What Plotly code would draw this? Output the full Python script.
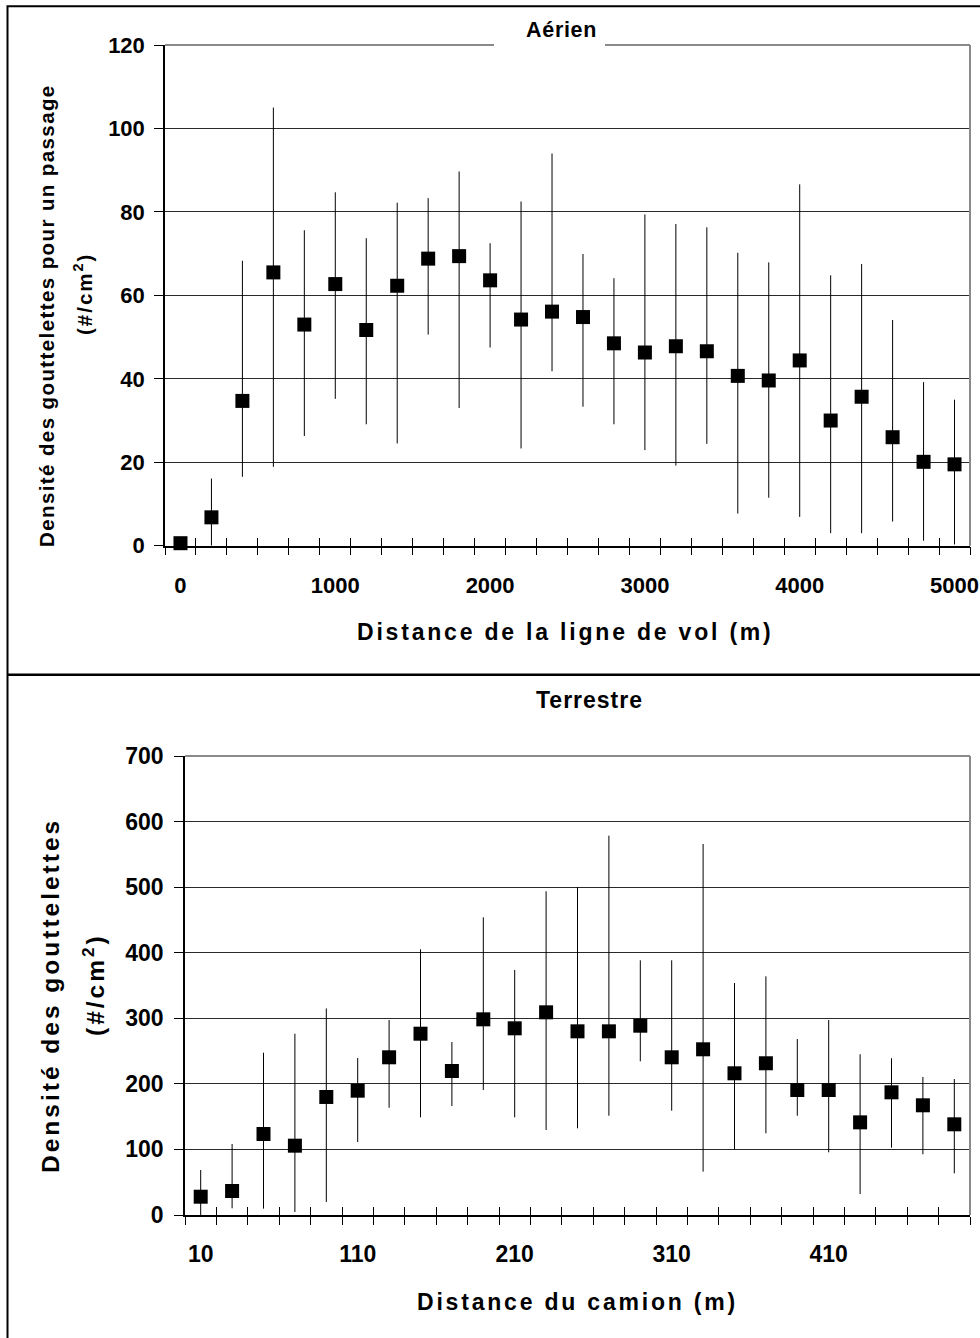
import plotly.graph_objects as go

# ---------------- data ----------------
air_distance = [0, 200, 400, 600, 800, 1000, 1200, 1400, 1600, 1800, 2000, 2200, 2400,
                2600, 2800, 3000, 3200, 3400, 3600, 3800, 4000, 4200, 4400, 4600, 4800, 5000]
air_density = [0.6, 6.8, 34.7, 65.5, 53.0, 62.7, 51.7, 62.3, 68.8, 69.4, 63.6, 54.2, 56.1,
               54.8, 48.5, 46.3, 47.8, 46.6, 40.7, 39.6, 44.4, 30.0, 35.7, 26.0, 20.1, 19.5]
air_upper = [0.6, 16.1, 68.3, 105.0, 75.6, 84.7, 73.7, 82.2, 83.3, 89.7, 72.5, 82.5, 94.0,
             69.9, 64.1, 79.4, 77.1, 76.3, 70.2, 67.9, 86.6, 64.8, 67.5, 54.1, 39.2, 35.0]
air_lower = [0.6, 0.0, 16.5, 18.9, 26.3, 35.2, 29.1, 24.5, 50.6, 33.0, 47.5, 23.3, 41.8,
             33.3, 29.1, 22.9, 19.2, 24.4, 7.7, 11.5, 6.9, 3.0, 3.0, 5.8, 1.2, 0.3]
air_ticklabels = [0, 1000, 2000, 3000, 4000, 5000]
air_yticks = [0, 20, 40, 60, 80, 100, 120]

truck_distance = [10, 30, 50, 70, 90, 110, 130, 150, 170, 190, 210, 230, 250,
                  270, 290, 310, 330, 350, 370, 390, 410, 430, 450, 470, 490]
truck_density = [27.9, 36.6, 123.5, 105.7, 180.0, 189.6, 240.5, 276.5, 219.6, 298.4, 284.7, 309.1, 280.1,
                 280.1, 288.7, 240.5, 252.7, 216.1, 231.4, 190.6, 190.6, 141.3, 187.1, 167.3, 138.3]
truck_upper = [68.6, 108.3, 247.5, 276.5, 315.0, 239.4, 297.4, 405.2, 263.8, 454.0, 373.6, 493.7, 500.2,
               578.5, 388.4, 388.4, 565.8, 353.8, 364.0, 268.4, 297.4, 245.1, 239.0, 210.5, 207.4]
truck_lower = [0.0, 10.2, 9.7, 4.6, 19.8, 111.3, 163.6, 149.0, 166.2, 190.6, 149.0, 129.6, 132.2,
               151.4, 234.4, 159.1, 66.1, 100.2, 124.6, 151.4, 95.6, 32.0, 102.7, 92.6, 63.6]
truck_ticklabels = [10, 110, 210, 310, 410]
truck_yticks = [0, 100, 200, 300, 400, 500, 600, 700]

# ---------------- helpers ----------------
W, H = 980, 1338
FONT = "Liberation Sans, Arial, sans-serif"


def px_x(v):
    return v / W


def px_y(v):
    return 1 - v / H


def boundaries(cats):
    step = cats[1] - cats[0]
    return [c - step / 2 for c in cats] + [cats[-1] + step / 2]


air_bounds = boundaries(air_distance)
truck_bounds = boundaries(truck_distance)


def spaced(text, sp):
    return f'<span style="letter-spacing:{sp}px">{text}</span>'


fig = go.Figure()


def add_series(x, y, up, lo, xa, ya):
    fig.add_trace(go.Scatter(
        x=x, y=y, mode="markers", xaxis=xa, yaxis=ya, showlegend=False,
        marker=dict(symbol="square", size=14, color="black", line=dict(width=0)),
        error_y=dict(type="data", symmetric=False,
                     array=[u - v for u, v in zip(up, y)],
                     arrayminus=[v - l for v, l in zip(y, lo)],
                     color="black", thickness=1, width=0),
        cliponaxis=False, hoverinfo="x+y"))


add_series(air_distance, air_density, air_upper, air_lower, "x", "y")
add_series(truck_distance, truck_density, truck_upper, truck_lower, "x2", "y2")
# invisible helper traces so the overlay tick axes get drawn
fig.add_trace(go.Scatter(x=air_distance, y=air_density, mode="markers", xaxis="x3", yaxis="y",
                         marker=dict(opacity=0), showlegend=False, hoverinfo="skip"))
fig.add_trace(go.Scatter(x=truck_distance, y=truck_density, mode="markers", xaxis="x4", yaxis="y2",
                         marker=dict(opacity=0), showlegend=False, hoverinfo="skip"))

tickfont_top = dict(family=FONT, size=22, color="black", weight="bold")
tickfont_bot = dict(family=FONT, size=23, color="black", weight="bold")

top_xdom = [px_x(165), px_x(970)]
top_ydom = [px_y(545.7), px_y(45)]
bot_xdom = [px_x(185), px_x(970)]
bot_ydom = [px_y(1215), px_y(756)]

common_x = dict(showgrid=False, zeroline=False, showline=True, linecolor="black", linewidth=1.5,
                tickmode="array", ticks="", fixedrange=True, automargin=False)
common_y = dict(showgrid=True, gridcolor="#2a2a2a", gridwidth=1, zeroline=False, showline=True,
                linecolor="black", linewidth=1.5, tickmode="array", ticks="outside", ticklen=9,
                tickcolor="black", tickwidth=1, fixedrange=True, automargin=False)
overlay_x = dict(tickmode="array", ticks="inside", ticklen=8, tickcolor="black", tickwidth=1,
                 showticklabels=False, showgrid=False, zeroline=False, showline=False,
                 fixedrange=True, automargin=False)

fig.update_layout(
    template="none",
    width=W, height=H, margin=dict(l=0, r=0, t=0, b=0, pad=0), autosize=False,
    paper_bgcolor="white", plot_bgcolor="white",
    font=dict(family=FONT, color="black"),
    xaxis=dict(domain=top_xdom, anchor="y", range=[air_bounds[0], air_bounds[-1]],
               tickvals=air_ticklabels, ticktext=[str(v) for v in air_ticklabels],
               tickfont=tickfont_top, ticklabelstandoff=19,
               minor=dict(tickmode="array", tickvals=air_bounds, ticks="outside", ticklen=8,
                          tickcolor="black", tickwidth=1, showgrid=False),
               **common_x),
    yaxis=dict(domain=top_ydom, anchor="x", range=[0, 120], tickvals=air_yticks,
               tickfont=tickfont_top, ticklabelstandoff=5, **common_y),
    xaxis3=dict(overlaying="x", anchor="y", range=[air_bounds[0], air_bounds[-1]],
                tickvals=air_bounds, **overlay_x),
    xaxis2=dict(domain=bot_xdom, anchor="y2", range=[truck_bounds[0], truck_bounds[-1]],
                tickvals=truck_ticklabels, ticktext=[str(v) for v in truck_ticklabels],
                tickfont=tickfont_bot, ticklabelstandoff=18,
                minor=dict(tickmode="array", tickvals=truck_bounds, ticks="outside", ticklen=8,
                           tickcolor="black", tickwidth=1, showgrid=False),
                **common_x),
    yaxis2=dict(domain=bot_ydom, anchor="x2", range=[0, 700], tickvals=truck_yticks,
                tickfont=tickfont_bot, ticklabelstandoff=6, **common_y),
    xaxis4=dict(overlaying="x2", anchor="y2", range=[truck_bounds[0], truck_bounds[-1]],
                tickvals=truck_bounds, **overlay_x),
)

shapes = []
# plot-area borders (top & right, grey)
for xr, yr in (("x domain", "y domain"), ("x2 domain", "y2 domain")):
    shapes.append(dict(type="line", xref=xr, yref=yr, x0=0, x1=1, y0=1, y1=1,
                       line=dict(color="#8a8a8a", width=2), layer="above"))
    shapes.append(dict(type="line", xref=xr, yref=yr, x0=1, x1=1, y0=0, y1=1,
                       line=dict(color="#8a8a8a", width=2), layer="above"))
# white patch behind the "Aérien" title (title sits on the top border)
shapes.append(dict(type="rect", xref="paper", yref="paper", x0=px_x(494), x1=px_x(605),
                   y0=px_y(50), y1=px_y(38), fillcolor="white", line=dict(width=0), layer="above"))
# outer frame and separator
shapes.append(dict(type="rect", xref="paper", yref="paper", x0=px_x(7.5), x1=1.05,
                   y0=-0.05, y1=px_y(6.3), line=dict(color="black", width=2), layer="above"))
shapes.append(dict(type="line", xref="paper", yref="paper", x0=px_x(7.5), x1=1.05,
                   y0=px_y(674.7), y1=px_y(674.7), line=dict(color="black", width=2.5), layer="above"))
fig.update_layout(shapes=shapes)


def ann(text, x, y, size, angle=0):
    return dict(text=text, x=px_x(x), y=px_y(y), xref="paper", yref="paper",
                xanchor="center", yanchor="middle", showarrow=False, textangle=angle,
                font=dict(family=FONT, size=size, color="black", weight="bold"))


annotations = [
    ann(spaced("Aérien", 0.7), 561, 30, 21.5),
    ann(spaced("Terrestre", 1.0), 589, 700, 23),
    ann(spaced("Distance de la ligne de vol (m)", 2.8), 565, 632, 23),
    ann(spaced("Distance du camion (m)", 2.8), 577, 1302, 23),
    ann(spaced("Densité des gouttelettes pour un passage", 1.4), 47, 316, 20.5, -90),
    ann(spaced("(#/cm<sup>2</sup>)", 2.0), 83, 294, 20.5, -90),
    ann(spaced("Densité des gouttelettes", 3.0), 50, 996, 24.5, -90),
    ann(spaced("(#/cm<sup>2</sup>)", 3.0), 93, 985, 24.5, -90),
]
fig.update_layout(annotations=annotations)

fig.write_html(
    "out.html",
    config={"displayModeBar": False},
    post_script="document.body.style.margin='0';document.body.style.overflow='hidden';",
)
